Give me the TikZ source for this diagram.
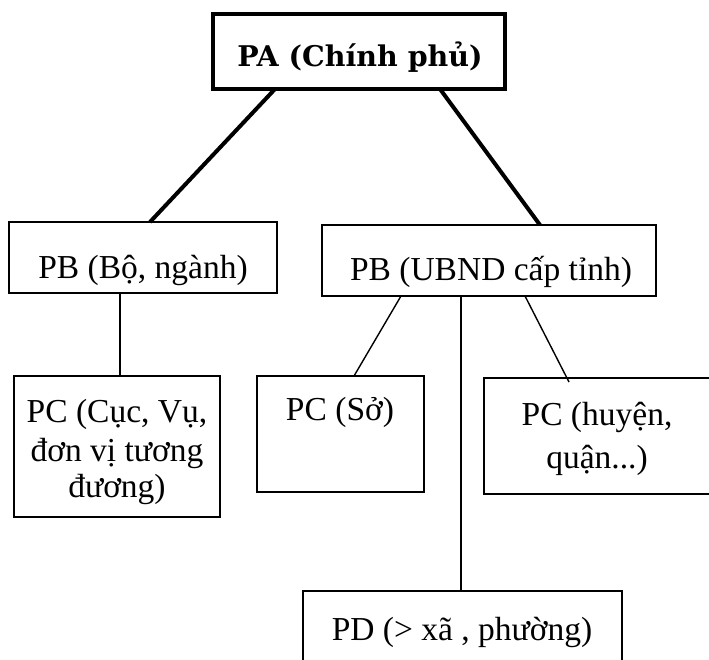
\documentclass[tikz,border=0pt]{standalone}
\usepackage{fontspec}
\setmainfont{Liberation Serif}
\newfontfamily\pafont{DejaVu Serif}
\begin{document}
\begin{tikzpicture}[x=1pt,y=-1pt,
  box/.style={draw,line width=2.2pt},
  thickbox/.style={draw,line width=4pt},
  lbl/.style={inner sep=0pt,anchor=base,font=\fontsize{33.5}{38}\selectfont},
  thin/.style={line width=1.4pt},
  heavy/.style={line width=4pt}]
\useasboundingbox (0,0) rectangle (709,659);
\clip (0,0) rectangle (709,659);
% boxes
\draw[thickbox] (213,14) rectangle (505,89);
\node[inner sep=0pt,anchor=base,font=\pafont\bfseries\fontsize{28.5}{32}\selectfont] (pa) at (360,66) {PA (Chính phủ)};
\coordinate (paL) at (275,89);
\coordinate (paR) at (440,89);

\draw[box] (9,222) rectangle (277,293);
\node[lbl] (pbl) at (143,278) {PB (Bộ, ngành)};
\coordinate (pblT) at (150,222);
\coordinate (pblB) at (120,293);

\draw[box] (322,225) rectangle (656,296);
\node[lbl] (pbr) at (491,280) {PB (UBND cấp tỉnh)};
\coordinate (pbrT) at (540,225);
\coordinate (pbrB1) at (401,296);
\coordinate (pbrB2) at (461,296);
\coordinate (pbrB3) at (525,296);

\draw[box,line width=2pt] (14,376) rectangle (220,517);
\node[lbl] (pcl1) at (117,422) {PC (Cục, Vụ,};
\node[lbl] (pcl2) at (117,461) {đơn vị tương};
\node[lbl] (pcl3) at (117,497) {đương)};
\coordinate (pclT) at (120,376);

\draw[box,line width=2pt] (257,376) rectangle (424,492);
\node[lbl] (pcs) at (340,420) {PC (Sở)};
\coordinate (pcsT) at (354,376);

\draw[box,line width=2pt] (484,378) rectangle (720,494);
\node[lbl] (pch1) at (597,425) {PC (huyện,};
\node[lbl] (pch2) at (597,468) {quận...)};
\coordinate (pchT) at (569,382);

\draw[box,line width=2pt] (303,591) rectangle (622,700);
\node[lbl] (pd) at (462,640) {PD (> xã , phường)};
\coordinate (pdT) at (461,591);

% connectors
\draw[heavy] (paL) -- (pblT);
\draw[heavy] (paR) -- (pbrT);
\draw[thin] (pblB) -- (pclT);
\draw[thin] (pbrB1) -- (pcsT);
\draw[thin] (pbrB2) -- (pdT);
\draw[thin] (pbrB3) -- (pchT);
\end{tikzpicture}
\end{document}
